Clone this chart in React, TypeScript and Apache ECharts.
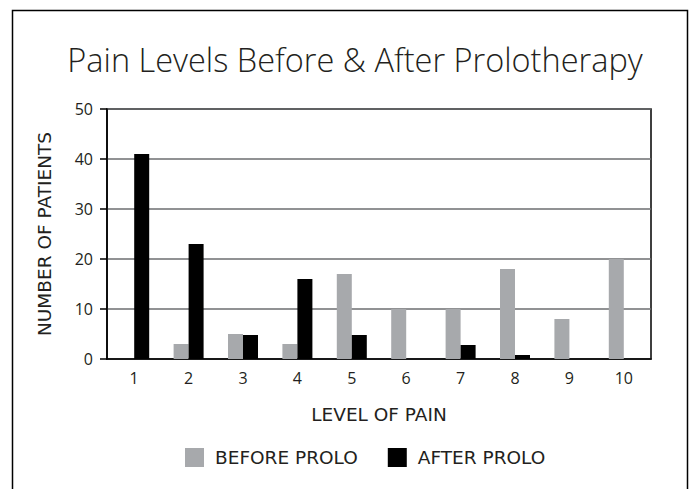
import React, { useEffect, useRef } from "react";
import * as echarts from "echarts";

const categories = ["1", "2", "3", "4", "5", "6", "7", "8", "9", "10"];
const beforeProlo = [0, 3, 5, 3, 17, 10, 10, 18, 8, 20];
const afterProlo = [41, 23, 4.8, 16, 4.8, 0, 2.8, 0.8, 0, 0];
const yTicks = { min: 0, max: 50, interval: 10 };

const FONT = "'Open Sans', 'Noto Sans', sans-serif";
const WIDE = "'DejaVu Sans', 'Open Sans', sans-serif";

export default function App() {
  const ref = useRef<HTMLDivElement>(null);
  useEffect(() => {
    if (!ref.current) return;
    const chart = echarts.init(ref.current, null, { renderer: "svg" });
    chart.setOption({
      animation: false,
      backgroundColor: "#ffffff",
      title: {
        text: "Pain Levels Before & After Prolotherapy",
        left: 350,
        textAlign: "center",
        top: 38,
        textStyle: {
          fontFamily: FONT,
          fontWeight: 300,
          fontSize: 32.5,
          color: "#231f20",
        },
      },
      graphic: [
        {
          type: "polyline",
          shape: { points: [[12.5, 489], [12.5, 10.5], [687.5, 10.5], [687.5, 489]] },
          style: { stroke: "#000", lineWidth: 1.5, fill: "none" },
          silent: true,
        },
      ],
      legend: {
        data: ["BEFORE PROLO", "AFTER PROLO"],
        left: 180,
        top: 443,
        itemWidth: 19,
        itemHeight: 19,
        itemGap: 30,
        icon: "rect",
        textStyle: { fontFamily: WIDE, fontSize: 18.5, color: "#231f20", padding: [0, 0, 0, 6] },
      },
      grid: {
        left: 107,
        right: 39,
        top: 109,
        bottom: 130,
        show: true,
        borderColor: "#000",
        borderWidth: 1.5,
      },
      xAxis: {
        type: "category",
        data: categories,
        name: "LEVEL OF PAIN",
        nameLocation: "middle",
        nameGap: 46,
        nameTextStyle: { fontFamily: WIDE, fontSize: 18.5, color: "#231f20" },
        axisLine: { lineStyle: { color: "#000", width: 1.5 } },
        axisTick: { show: false },
        axisLabel: { fontFamily: FONT, fontSize: 16, color: "#231f20", margin: 11 },
      },
      yAxis: {
        type: "value",
        min: yTicks.min,
        max: yTicks.max,
        interval: yTicks.interval,
        name: "NUMBER OF PATIENTS",
        nameLocation: "middle",
        nameGap: 53,
        nameTextStyle: { fontFamily: WIDE, fontSize: 18.5, color: "#231f20" },
        axisLine: { show: true, lineStyle: { color: "#000", width: 1.5 } },
        axisTick: { show: true, length: 7, lineStyle: { color: "#000", width: 1.5 } },
        axisLabel: { fontFamily: FONT, fontSize: 16, color: "#231f20", margin: 14 },
        splitLine: { lineStyle: { color: "#6d6e71", width: 1.5 } },
      },
      series: [
        {
          name: "BEFORE PROLO",
          type: "bar",
          data: beforeProlo,
          barWidth: 15,
          barGap: "0%",
          itemStyle: { color: "#a7a9ac" },
        },
        {
          name: "AFTER PROLO",
          type: "bar",
          data: afterProlo,
          barWidth: 15,
          barGap: "0%",
          itemStyle: { color: "#000000" },
        },
      ],
    });
    return () => chart.dispose();
  }, []);
  return (
    <div
      ref={ref}
      style={{ position: "fixed", left: 0, top: 0, width: 690, height: 489 }}
    />
  );
}
